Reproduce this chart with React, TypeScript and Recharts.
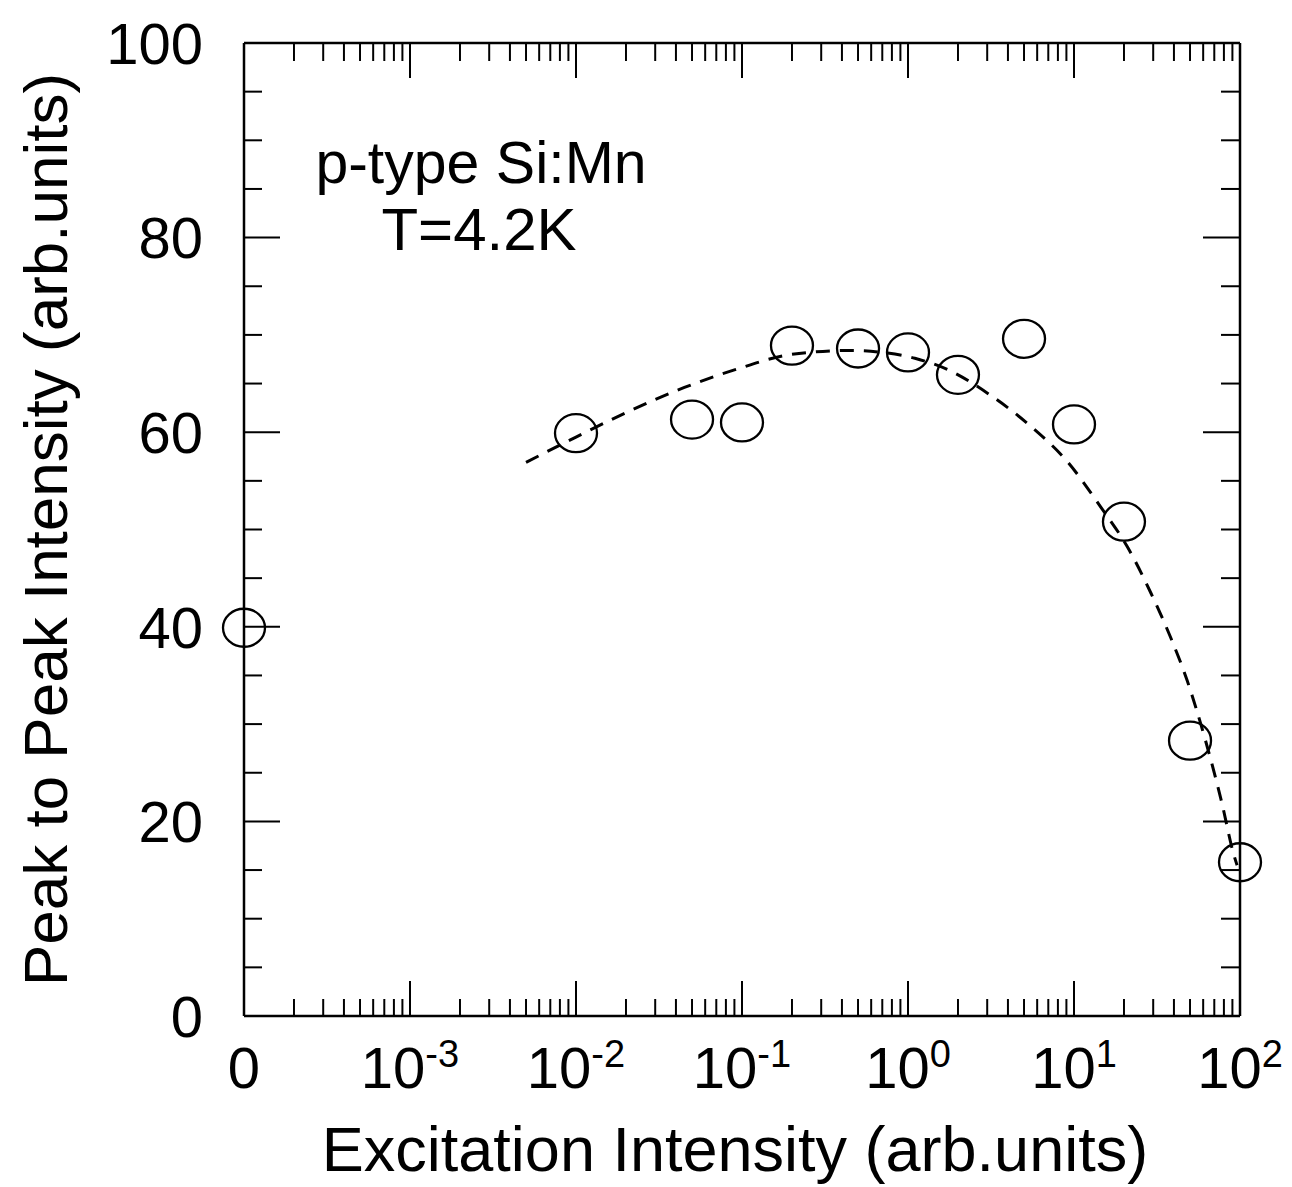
import { ComposedChart, Line, Scatter, XAxis, YAxis, Label } from "recharts";

const FONT = "'Liberation Sans', Arial, Helvetica, sans-serif";

// measured points (excitation in arb. units, 0 is drawn at the left edge)
const excitation = [0, 0.01, 0.05, 0.1, 0.2, 0.5, 1, 2, 5, 10, 20, 50, 100];
const peakIntensity = [39.9, 59.9, 61.3, 61.0, 68.9, 68.6, 68.2, 65.9, 69.6, 60.8, 50.8, 28.3, 15.8];

// dashed guide curve
const fitExcitation = [
  0.005, 0.01, 0.02, 0.045, 0.09, 0.2, 0.45, 0.7, 1.1, 1.75, 3.2, 5.5, 9.2, 14.5, 21, 29, 38, 48, 62, 78, 91, 96,
];
const fitIntensity = [
  56.9, 59.5, 62.0, 64.6, 66.4, 68.0, 68.4, 68.2, 67.6, 66.4, 63.7, 60.6, 56.9, 52.3, 48.2, 43.5, 39.0, 34.5, 28.3,
  21.8, 16.8, 15.5,
];

// axis ticks
const decades = [-4, -3, -2, -1, 0, 1, 2];
const decadeLabels: [string, string][] = [
  ["0", ""],
  ["10", "-3"],
  ["10", "-2"],
  ["10", "-1"],
  ["10", "0"],
  ["10", "1"],
  ["10", "2"],
];
const minorMultipliers = [2, 3, 4, 5, 6, 7, 8, 9];
const yTicks = [0, 5, 10, 15, 20, 25, 30, 35, 40, 45, 50, 55, 60, 65, 70, 75, 80, 85, 90, 95, 100];
const yMajor = [0, 20, 40, 60, 80, 100];

const ZERO_POS = -4; // where "0" sits on the broken log axis
const toPos = (v: number) => (v === 0 ? ZERO_POS : Math.log10(v));

const xTicks: number[] = [];
decades.forEach((d, i) => {
  xTicks.push(d);
  if (i < decades.length - 1) minorMultipliers.forEach((m) => xTicks.push(d + Math.log10(m)));
});

const points = excitation.map((e, i) => ({ lx: toPos(e), y: peakIntensity[i] }));
const fit = fitExcitation.map((e, i) => ({ lx: toPos(e), y: fitIntensity[i] }));

const INK = "#000";

function BottomTick(props: any) {
  const { x, y, payload } = props;
  const i = decades.indexOf(payload.value);
  if (i < 0) return <line x1={x} x2={x} y1={y} y2={y - 17} stroke={INK} strokeWidth={2} />;
  const [base, exp] = decadeLabels[i];
  return (
    <g>
      {i > 0 && i < decades.length - 1 && (
        <line x1={x} x2={x} y1={y} y2={y - 35} stroke={INK} strokeWidth={2} />
      )}
      <text x={x} y={y + 72} textAnchor="middle" fontSize={58} fontFamily={FONT} fill={INK}>
        {base}
        {exp && (
          <tspan dy={-21} fontSize={38}>
            {exp}
          </tspan>
        )}
      </text>
    </g>
  );
}

function TopTick(props: any) {
  const { x, y, payload } = props;
  const i = decades.indexOf(payload.value);
  if (i === 0 || i === decades.length - 1) return <g />;
  const len = i < 0 ? 18 : 35;
  return <line x1={x} x2={x} y1={y} y2={y + len} stroke={INK} strokeWidth={2} />;
}

function LeftTick(props: any) {
  const { x, y, payload } = props;
  const major = yMajor.includes(payload.value);
  return (
    <g>
      <line x1={x} x2={x + (major ? 36 : 18)} y1={y} y2={y} stroke={INK} strokeWidth={2} />
      {major && (
        <text x={x - 41} y={y} dy="0.36em" textAnchor="end" fontSize={58} fontFamily={FONT} fill={INK}>
          {payload.value}
        </text>
      )}
    </g>
  );
}

function RightTick(props: any) {
  const { x, y, payload } = props;
  const major = yMajor.includes(payload.value);
  return <line x1={x} x2={x - (major ? 37 : 19)} y1={y} y2={y} stroke={INK} strokeWidth={2} />;
}

const OpenCircle = (props: any) => (
  <ellipse cx={props.cx} cy={props.cy} rx={21} ry={19} fill="none" stroke={INK} strokeWidth={2.3} />
);

export default function App() {
  return (
    <div style={{ position: "absolute", left: 0, top: 0, width: 1292, height: 1187, background: "#fff" }}>
      <ComposedChart width={1292} height={1187} margin={{ top: 42, right: 51, bottom: 6, left: 0 }}>
        <XAxis
          xAxisId="bottom"
          type="number"
          dataKey="lx"
          domain={[-4, 2]}
          ticks={xTicks}
          interval={0}
          tickSize={0}
          tickMargin={0}
          tick={<BottomTick />}
          height={165}
          axisLine={{ stroke: INK, strokeWidth: 2.5 }}
        >
          <Label
            value="Excitation Intensity (arb.units)"
            position="insideBottom"
            offset={10}
            dx={-7}
            fontSize={63}
            fontFamily={FONT}
            fill={INK}
          />
        </XAxis>
        <XAxis
          xAxisId="top"
          orientation="top"
          type="number"
          dataKey="lx"
          domain={[-4, 2]}
          ticks={xTicks}
          interval={0}
          tickSize={0}
          tickMargin={0}
          tick={<TopTick />}
          height={1}
          axisLine={{ stroke: INK, strokeWidth: 2.5 }}
        />
        <YAxis
          yAxisId="left"
          type="number"
          dataKey="y"
          domain={[0, 100]}
          ticks={yTicks}
          interval={0}
          tickSize={0}
          tickMargin={0}
          tick={<LeftTick />}
          width={244}
          axisLine={{ stroke: INK, strokeWidth: 2.5 }}
        >
          <Label
            value="Peak to Peak Intensity (arb.units)"
            angle={-90}
            position="insideLeft"
            offset={45}
            textAnchor="middle"
            style={{ textAnchor: "middle" }}
            fontSize={62}
            fontFamily={FONT}
            fill={INK}
          />
        </YAxis>
        <YAxis
          yAxisId="right"
          orientation="right"
          type="number"
          dataKey="y"
          domain={[0, 100]}
          ticks={yTicks}
          interval={0}
          tickSize={0}
          tickMargin={0}
          tick={<RightTick />}
          width={1}
          axisLine={{ stroke: INK, strokeWidth: 2.5 }}
        />
        <Line
          data={fit}
          xAxisId="bottom"
          yAxisId="left"
          dataKey="y"
          type="monotone"
          stroke={INK}
          strokeWidth={3}
          strokeDasharray="14 10"
          dot={false}
          activeDot={false}
          isAnimationActive={false}
        />
        <Scatter
          data={points}
          xAxisId="top"
          yAxisId="right"
          dataKey="y"
          shape={OpenCircle}
          isAnimationActive={false}
        />
      </ComposedChart>
      <svg
        width={1292}
        height={1187}
        style={{ position: "absolute", left: 0, top: 0, pointerEvents: "none" }}
      >
        <text x={481} y={183} textAnchor="middle" fontSize={59} fontFamily={FONT} fill={INK}>
          p-type Si:Mn
        </text>
        <text x={479} y={250} textAnchor="middle" fontSize={60} fontFamily={FONT} fill={INK}>
          T=4.2K
        </text>
      </svg>
    </div>
  );
}
